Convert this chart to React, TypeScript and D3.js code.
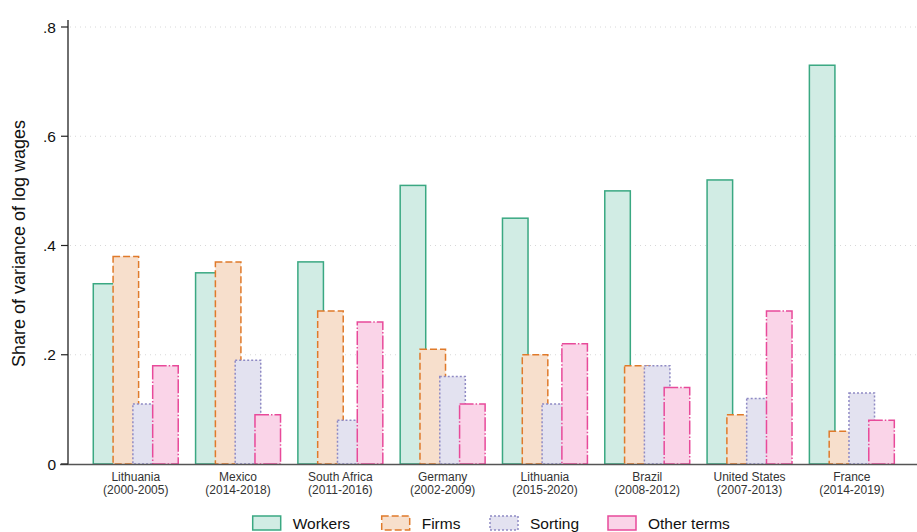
import React from "react";
import * as d3 from "d3";

const countries = ["Lithuania", "Mexico", "South Africa", "Germany", "Lithuania", "Brazil", "United States", "France"];
const periods = ["(2000-2005)", "(2014-2018)", "(2011-2016)", "(2002-2009)", "(2015-2020)", "(2008-2012)", "(2007-2013)", "(2014-2019)"];
const seriesNames = ["Workers", "Firms", "Sorting", "Other terms"];
const workers = [0.33, 0.35, 0.37, 0.51, 0.45, 0.5, 0.52, 0.73];
const firms = [0.38, 0.37, 0.28, 0.21, 0.2, 0.18, 0.09, 0.06];
const sorting = [0.11, 0.19, 0.08, 0.16, 0.11, 0.18, 0.12, 0.13];
const otherTerms = [0.18, 0.09, 0.26, 0.11, 0.22, 0.14, 0.28, 0.08];
const yTicks = [0, 0.2, 0.4, 0.6, 0.8];
const yTickLabels = ["0", ".2", ".4", ".6", ".8"];

const seriesValues = [workers, firms, sorting, otherTerms];
const fills = ["#d1ece4", "#f7dfcc", "#e3e2f0", "#fad4e8"];
const strokes = ["#3aa882", "#e07a2a", "#8f8ac4", "#e84a9a"];
const dashes = ["none", "7,3", "2,2", "14,2,1.5,2"];

const W = 917;
const H = 532;
const FONT = "Liberation Sans, Arial, Helvetica, sans-serif";

export default function App() {
  const y = d3.scaleLinear().domain([0, 0.8]).range([464, 27]);
  const groupIdx = countries.map((_, i) => String(i));
  const x = d3.scaleBand<string>().domain(groupIdx).range([84.6, 903]).padding(0);
  const inner = d3.scaleBand<string>().domain(seriesNames).range([0, 79.2]).padding(0);
  const barW = inner.bandwidth() * 1.29;
  const groupWidth = 79.2 - inner.bandwidth() + barW;

  const legendX = [252.7, 381.7, 490, 608];

  return (
    <svg width={W} height={H} style={{ position: "absolute", left: 0, top: 0, background: "#fff" }} fontFamily={FONT}>
      {/* grid lines */}
      {yTicks.map((t, i) =>
        t === 0 ? null : (
          <line key={"g" + i} x1={70} x2={916} y1={y(t)} y2={y(t)} stroke="#d8d8d8" strokeWidth={1} strokeDasharray="1,4" />
        )
      )}
      {/* bars */}
      {countries.map((c, gi) => {
        const cx = (x(String(gi)) as number) + x.bandwidth() / 2;
        const x0 = cx - groupWidth / 2;
        return (
          <g key={"grp" + gi}>
            {seriesNames.map((s, si) => {
              const v = seriesValues[si][gi];
              const bx = x0 + (inner(s) as number);
              return (
                <rect
                  key={s}
                  x={bx}
                  y={y(v)}
                  width={barW}
                  height={y(0) - y(v)}
                  fill={fills[si]}
                  stroke={strokes[si]}
                  strokeWidth={1.5}
                  strokeDasharray={dashes[si]}
                />
              );
            })}
            <text x={cx} y={481} textAnchor="middle" fontSize={12} fill="#333">
              {c}
            </text>
            <text x={cx} y={494} textAnchor="middle" fontSize={12} fill="#333">
              {periods[gi]}
            </text>
          </g>
        );
      })}
      {/* axes */}
      <line x1={68} x2={68} y1={20} y2={464.5} stroke="#222" strokeWidth={1.3} />
      <line x1={60} x2={917} y1={464.5} y2={464.5} stroke="#555" strokeWidth={1.6} />
      {yTicks.map((t, i) => (
        <g key={"t" + i}>
          <line x1={61} x2={68} y1={y(t)} y2={y(t)} stroke="#222" strokeWidth={1.2} />
          <text x={56} y={y(t) + 5.5} textAnchor="end" fontSize={15.5} fill="#111">
            {yTickLabels[i]}
          </text>
        </g>
      ))}
      <text
        transform={`translate(25,${(y(0) + y(0.8)) / 2 - 2}) rotate(-90)`}
        textAnchor="middle"
        fontSize={18}
        fill="#111"
      >
        Share of variance of log wages
      </text>
      {/* legend */}
      {seriesNames.map((s, si) => (
        <g key={"l" + si}>
          <rect
            x={legendX[si]}
            y={516}
            width={28}
            height={14}
            fill={fills[si]}
            stroke={strokes[si]}
            strokeWidth={1.5}
            strokeDasharray={dashes[si] === "14,2,1.5,2" ? "none" : dashes[si]}
          />
          <text x={legendX[si] + 40} y={529} fontSize={15.5} fill="#111">
            {s}
          </text>
        </g>
      ))}
    </svg>
  );
}
